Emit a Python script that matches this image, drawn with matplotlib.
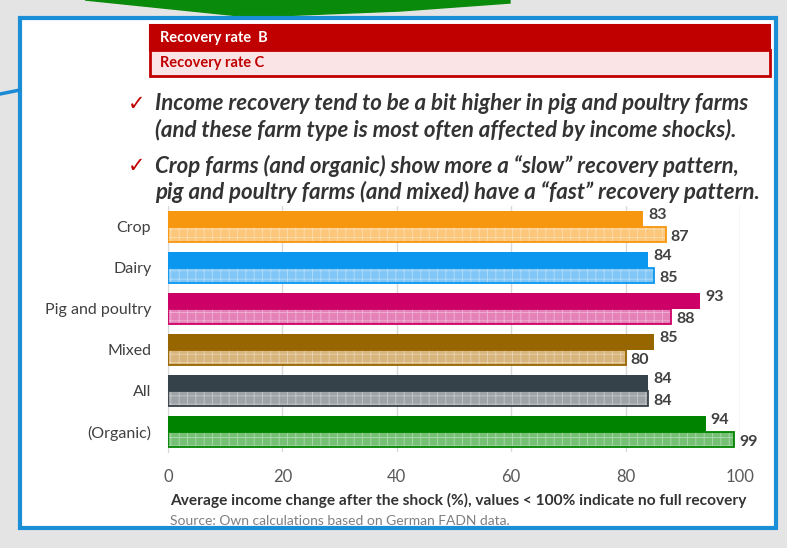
import matplotlib.pyplot as plt
from matplotlib.patches import Rectangle, Polygon

# Данные
categories = ['Crop', 'Dairy', 'Pig and poultry', 'Mixed', 'All', '(Organic)']
rate_b = [83, 84, 93, 85, 84, 94]
rate_c = [87, 85, 88, 80, 84, 99]
x_ticks = [0, 20, 40, 60, 80, 100]

dark = ['#f7960f', '#0b96ef', '#cc0066', '#986600', '#36424a', '#008400']
light = ['#fcc77a', '#80c6f6', '#e681b8', '#d7b57c', '#9ea3a7', '#76c076']

bullets = [
    ('Income recovery tend to be a bit higher in pig and poultry farms',
     '(and these farm type is most often affected by income shocks).'),
    ('Crop farms (and organic) show more a \u201cslow\u201d recovery pattern,',
     'pig and poultry farms (and mixed) have a \u201cfast\u201d recovery pattern.'),
]

W, H = 787, 548
FONT = 'Lato'
plt.rcParams['font.family'] = [FONT, 'DejaVu Sans']
plt.rcParams['hatch.linewidth'] = 0.6

fig = plt.figure(figsize=(W / 100, H / 100), dpi=100, facecolor='#e4e4e4')

# Фон слайда в пикселях
bg = fig.add_axes([0, 0, 1, 1], zorder=0)
bg.set_xlim(0, W)
bg.set_ylim(H, 0)
bg.axis('off')
bg.add_patch(Polygon([(85, 0), (250, 17), (400, 11), (510, 3), (510, 0)],
                     closed=True, color='#0a8a0a'))
bg.plot([0, 20], [94, 90], color='#1a8ad4', lw=2.5)
bg.add_patch(Rectangle((20, 18), 756, 510, facecolor='white',
                       edgecolor='#1b8ed8', lw=3))

# Заголовки
bg.add_patch(Rectangle((150, 25), 620, 25, facecolor='#c00000',
                       edgecolor='#c00000', lw=1.5))
bg.add_patch(Rectangle((150, 50), 620, 26, facecolor='#fbe4e6',
                       edgecolor='#c00000', lw=2))
bg.text(160, 38, 'Recovery rate  B', color='white', fontsize=10.5,
        fontweight='bold', va='center')
bg.text(160, 63.5, 'Recovery rate C', color='#c00000', fontsize=10.5,
        fontweight='bold', va='center')

# Пункты
y0 = [104, 166]
for (l1, l2), y in zip(bullets, y0):
    bg.text(128, y, '\u2713', color='#c00000', fontsize=15,
            family='DejaVu Sans', va='center')
    bg.text(155, y, l1, color='#333333', fontsize=16, style='italic',
            fontweight='bold', va='center')
    bg.text(155, y + 26, l2, color='#333333', fontsize=16, style='italic',
            fontweight='bold', va='center')

# График
ax = fig.add_axes([168 / W, 1 - 452 / H, 572 / W, 246 / H], zorder=1)
ax.patch.set_alpha(0)
pos = list(range(len(categories)))
h = 0.39
for i in pos:
    ax.barh(i - h / 2, rate_b[i], height=h, color=dark[i], zorder=3)
    ax.barh(i + h / 2, rate_c[i], height=h, color=light[i],
            edgecolor=(1, 1, 1, 0.4), hatch='++', lw=0, zorder=3)
    ax.barh(i + h / 2, rate_c[i], height=h, fill=False,
            edgecolor=dark[i], lw=1.3, zorder=4)
    ax.text(rate_b[i] + 0.9, i - h / 2 - 0.08, str(rate_b[i]), fontsize=11.5,
            fontweight='bold', color='#404040', va='center')
    ax.text(rate_c[i] + 0.9, i + h / 2 + 0.05, str(rate_c[i]), fontsize=11.5,
            fontweight='bold', color='#404040', va='center')

ax.set_xlim(0, 100)
ax.set_ylim(len(categories) - 0.5, -0.5)
ax.set_yticks(pos)
ax.set_yticklabels(categories, fontsize=11.5, color='#404040')
ax.set_xticks(x_ticks)
ax.set_xticklabels([str(t) for t in x_ticks], fontsize=12, color='#595959')
ax.tick_params(length=0, axis='y', pad=12)
ax.tick_params(length=0, axis='x', pad=12)
ax.grid(axis='x', color='#d9d9d9', lw=1, zorder=0)
for s in ['top', 'right', 'bottom']:
    ax.spines[s].set_visible(False)
ax.spines['left'].set_color('#d9d9d9')

bg.text(170, 500, 'Average income change after the shock (%), values < 100% indicate no full recovery',
        color='#333333', fontsize=11.2, fontweight='bold', va='center')
bg.text(170, 521, 'Source: Own calculations based on German FADN data.',
        color='#7f7f7f', fontsize=10, va='center')

fig.savefig('out.png', dpi=100, facecolor=fig.get_facecolor())
